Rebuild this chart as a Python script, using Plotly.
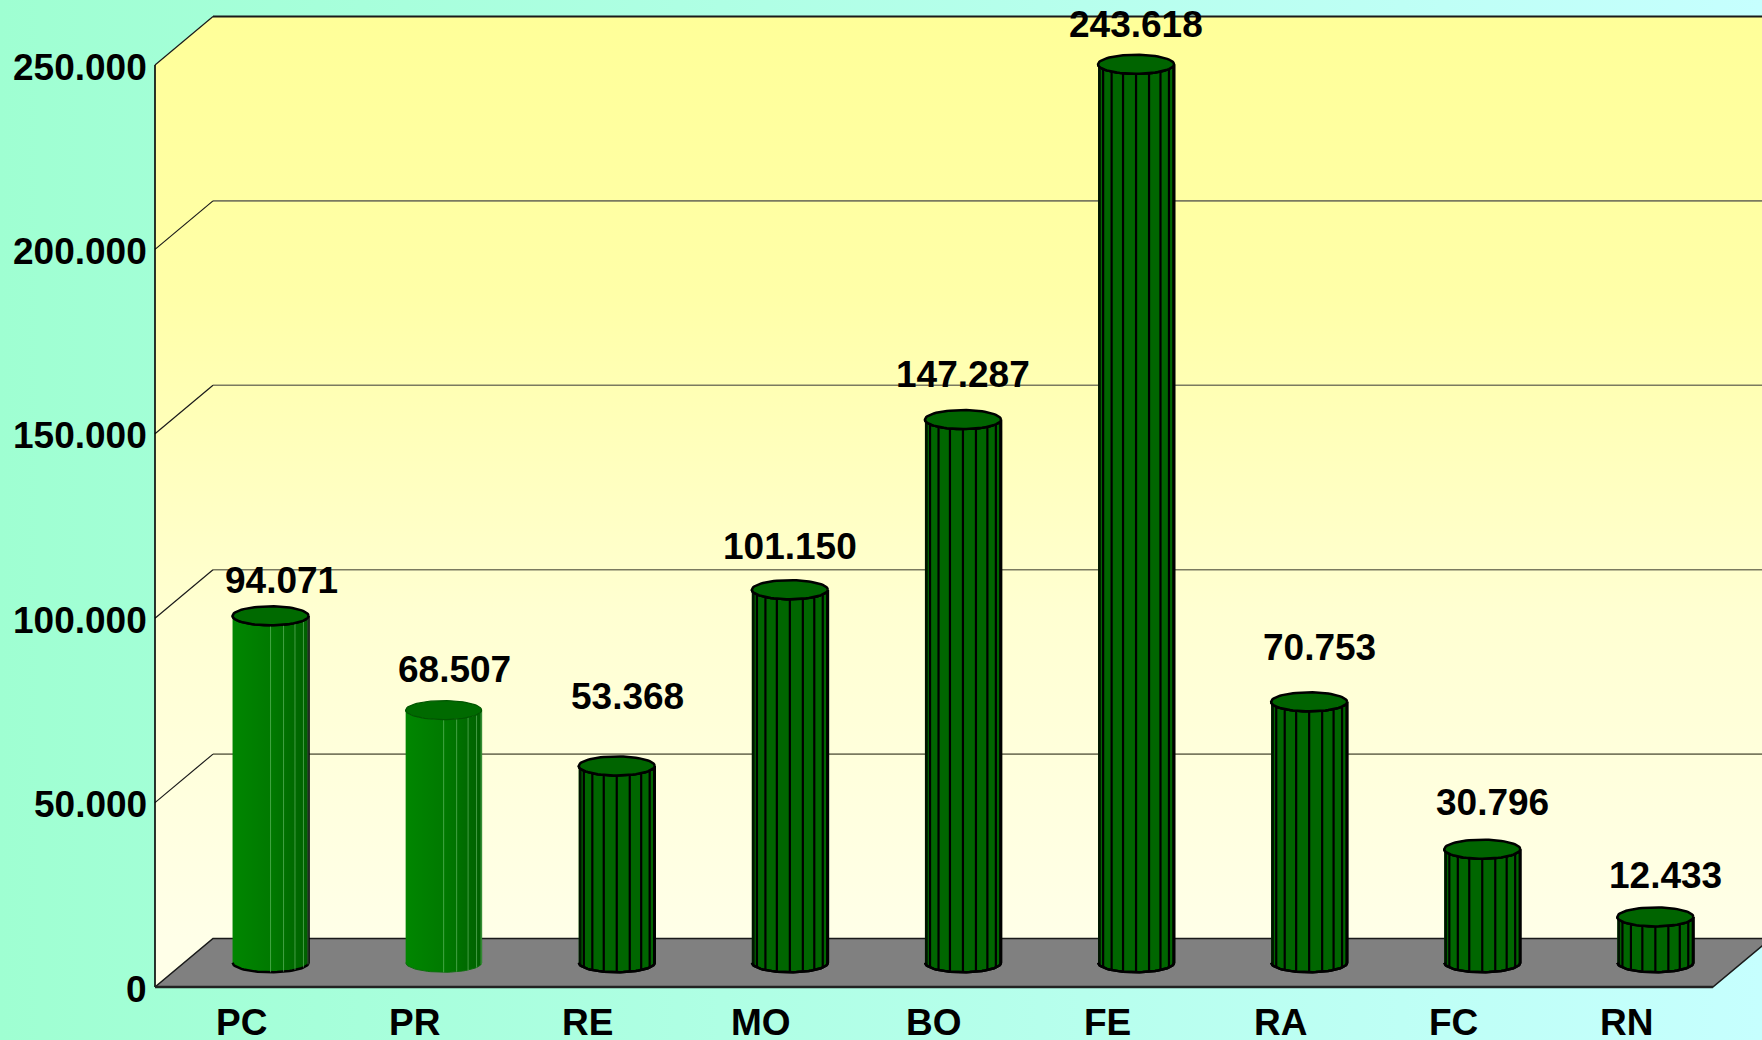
import numpy as np
import plotly.graph_objects as go

# ---- data ----
categories = ["PC", "PR", "RE", "MO", "BO", "FE", "RA", "FC", "RN"]
values = [94071, 68507, 53368, 101150, 147287, 243618, 70753, 30796, 12433]
y_ticks = [0, 50000, 100000, 150000, 200000, 250000]

# ---- styling ----
W, H = 1762, 1040
PX_X0 = 155            # pixel of the front-left floor corner
CAT_PX = 173.1         # pixels per category
PX_Y0 = 987            # pixel of value 0 on the front plane
VAL_PX = 0.003688      # pixels per value unit
DEPTH_PX = (58, 48.5)  # 3D depth offset (right, up) in pixels

DX = DEPTH_PX[0] / CAT_PX
DY = DEPTH_PX[1] / VAL_PX
YMAX = 250000
x_range = [-0.5 - PX_X0 / CAT_PX, -0.5 + (W - PX_X0) / CAT_PX]
y_range = [-(H - PX_Y0) / VAL_PX, PX_Y0 / VAL_PX]

BAR_A = 38 / CAT_PX      # cylinder half width
BAR_B = 9.5 / VAL_PX     # cylinder ellipse half height
FONT = "Liberation Sans, Arial, sans-serif"
FONT_SIZE = 37
bright = {"PC": True, "PR": True}
outlined = {"PR": False}
label_lift = [35, 41, 69, 43, 45, 40, 54, 47, 41]   # px above bar top
label_right = 69                                     # px right of bar centre

fig = go.Figure()


def poly(xs, ys, **kw):
    fig.add_trace(go.Scatter(x=list(xs), y=list(ys), mode="lines", fill="toself",
                             hoverinfo="skip", showlegend=False, **kw))


def line(xs, ys, color, width):
    fig.add_trace(go.Scatter(x=list(xs), y=list(ys), mode="lines",
                             line=dict(color=color, width=width),
                             hoverinfo="skip", showlegend=False))


# background
poly([x_range[0], x_range[1], x_range[1], x_range[0]],
     [y_range[0], y_range[0], y_range[1], y_range[1]],
     line=dict(width=0),
     fillgradient=dict(type="horizontal",
                       colorscale=[[0, "#9FFFD2"], [1, "#C6FFFE"]]))

wall_scale = [[0, "#FFFFE8"], [0.35, "#FFFFD2"], [0.7, "#FFFFA8"], [1, "#FFFF99"]]
xl = -0.5 + DX
xr = x_range[1] + 1
# back wall
poly([xl, xr, xr, xl], [DY, DY, YMAX + DY, YMAX + DY],
     line=dict(width=0),
     fillgradient=dict(type="vertical", colorscale=wall_scale, start=DY, stop=YMAX + DY))
# side wall
poly([-0.5, -0.5, xl, xl], [0, YMAX, YMAX + DY, DY],
     line=dict(width=0),
     fillgradient=dict(type="vertical", colorscale=wall_scale, start=DY, stop=YMAX + DY))

# gridlines
for v in y_ticks[1:]:
    is_top = v == YMAX
    line([xl, xr], [v + DY, v + DY], "#1a1a1a" if is_top else "#7a7a60", 2 if is_top else 1.6)
    line([-0.5, xl], [v, v + DY], "#1a1a1a", 1.2)
line([-0.5, -0.5], [0, YMAX], "#000000", 1.6)

# floor
n = len(categories)
poly([-0.5, n - 0.5, n - 0.5 + DX, xl, -0.5], [0, 0, DY, DY, 0],
     fillcolor="#808080", line=dict(color="#1a1a1a", width=1.6))
line([-0.5, n - 0.5], [0, 0], "#222222", 2.5)

# cylinders
edges = np.radians(np.arange(190, 360, 20))   # facet edges on the front half
arc = np.radians(np.linspace(180, 360, 37))
full = np.radians(np.linspace(0, 360, 73))
for i, (cat, v) in enumerate(zip(categories, values)):
    cx = i + DX / 2
    yb = DY / 2
    yt = v + DY / 2
    is_bright = bright.get(cat, False)
    has_outline = outlined.get(cat, True)
    ox = cx + BAR_A * np.cos(arc)
    oy = BAR_B * np.sin(arc)
    bx = np.concatenate([[cx - BAR_A], ox, ox[::-1]])
    by = np.concatenate([[yt], yt + oy, yb + oy[::-1]])
    outline = dict(color="#000000" if has_outline else "#0c6e0c",
                   width=2.5 if has_outline else 1)
    if is_bright:
        poly(bx, by, line=outline,
             fillgradient=dict(type="horizontal",
                               colorscale=[[0, "#008600"], [0.55, "#007800"], [1, "#006000"]]))
        sx, sy = [], []
        for t in edges[4:]:
            x = cx + BAR_A * np.cos(t)
            sx += [x, x, None]
            sy += [yb + BAR_B * np.sin(t), yt + BAR_B * np.sin(t), None]
        line(sx, sy, "rgba(150,220,150,0.45)", 1)
    else:
        poly(bx, by, fillcolor="#006600", line=outline)
        # shaded left facet
        t0, t1 = np.radians(180), edges[0] + np.radians(12)
        ts = np.linspace(t0, t1, 6)
        fx = cx + BAR_A * np.cos(ts)
        fy = BAR_B * np.sin(ts)
        poly(np.concatenate([fx, fx[::-1]]),
             np.concatenate([yt + fy, yb + fy[::-1]]),
             fillcolor="#001400", line=dict(width=0))
        sx, sy = [], []
        for t in edges[1:]:
            x = cx + BAR_A * np.cos(t)
            sx += [x, x, None]
            sy += [yb + BAR_B * np.sin(t), yt + BAR_B * np.sin(t), None]
        line(sx, sy, "#000000", 2.2)
        poly(bx, by, fillcolor="rgba(0,0,0,0)", line=outline)
    # top cap
    poly(cx + BAR_A * np.cos(full), yt + BAR_B * np.sin(full),
         fillcolor="#006400" if not is_bright else "#006A00",
         line=dict(color="#000000" if has_outline else "#005500",
                   width=2.5 if has_outline else 1.2))


def fmt(v):
    return f"{v:,}".replace(",", ".")


annotations = []
for i, (cat, v) in enumerate(zip(categories, values)):
    annotations.append(dict(x=i + DX / 2, y=v + DY / 2, text=f"<b>{fmt(v)}</b>",
                            showarrow=False, xanchor="right", yanchor="middle",
                            xshift=label_right, yshift=label_lift[i],
                            font=dict(family=FONT, size=FONT_SIZE, color="#000")))
    annotations.append(dict(x=i, y=0, text=f"<b>{cat}</b>", showarrow=False,
                            xanchor="center", yanchor="middle", yshift=-35,
                            font=dict(family=FONT, size=FONT_SIZE, color="#000")))
for v in y_ticks:
    annotations.append(dict(x=-0.5, y=v, text=f"<b>{fmt(v)}</b>", showarrow=False,
                            xanchor="right", yanchor="middle", xshift=-6, yshift=-2,
                            font=dict(family=FONT, size=FONT_SIZE, color="#000")))

fig.update_layout(
    width=W, height=H, autosize=False,
    margin=dict(l=0, r=0, t=0, b=0, pad=0),
    paper_bgcolor="#B0FFE6", plot_bgcolor="rgba(0,0,0,0)",
    xaxis=dict(range=x_range, visible=False, fixedrange=True),
    yaxis=dict(range=y_range, visible=False, fixedrange=True),
    annotations=annotations,
    showlegend=False,
)
fig.write_html("out.html")
